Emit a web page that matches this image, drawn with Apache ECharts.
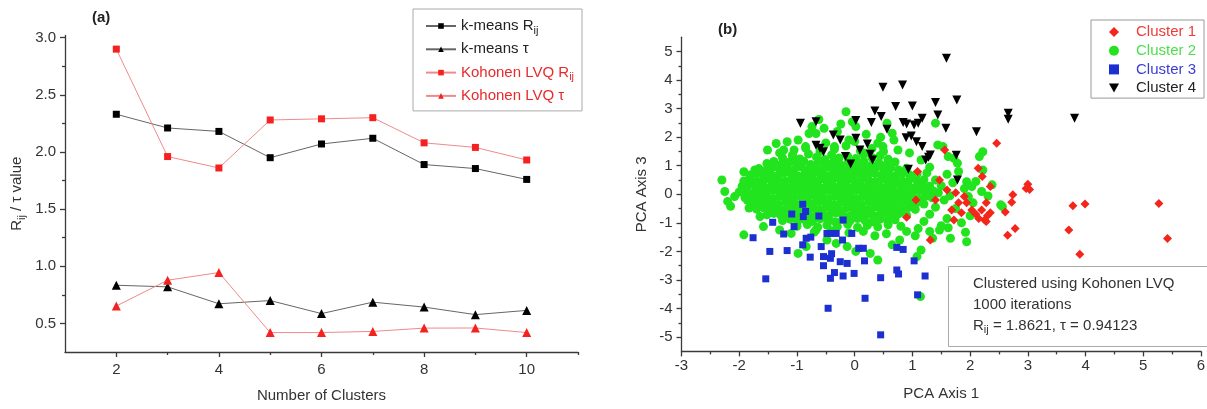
<!DOCTYPE html>
<html><head><meta charset="utf-8">
<script src="https://cdn.jsdelivr.net/npm/echarts@6/dist/echarts.min.js"></script>
<style>html,body{margin:0;padding:0;background:#fff}#c{width:1207px;height:409px}</style>
</head><body><div id="c"></div>
<script>
// ---------- Panel (a) data ----------
const clusterCounts = [2, 3, 4, 5, 6, 7, 8, 9, 10];
const kmeansR   = [2.33, 2.21, 2.18, 1.95, 2.07, 2.12, 1.89, 1.855, 1.76];
const kmeansTau = [0.834, 0.82, 0.672, 0.70, 0.586, 0.686, 0.643, 0.577, 0.614];
const kohonenR  = [2.90, 1.96, 1.86, 2.28, 2.29, 2.30, 2.08, 2.04, 1.93];
const kohonenTau= [0.652, 0.878, 0.945, 0.42, 0.42, 0.43, 0.459, 0.46, 0.42];
const aXTicks = [2, 4, 6, 8, 10];
const aXMinor = [3, 5, 7, 9, 11];
const aYTicks = [0.5, 1.0, 1.5, 2.0, 2.5, 3.0];
const aYMinor = [0.75, 1.25, 1.75, 2.25, 2.75];

// ---------- Panel (b) data (PCA Axis 1, PCA Axis 3) ----------
const cluster1 = [[2.46,1.79],[2.14,0.91],[2.21,0.62],[3.0,0.35],[2.97,0.2],[3.03,0.17],[2.74,-0.02],[2.72,-0.28],[2.61,-0.62],[2.78,-1.2],[2.65,-1.43],[3.71,-1.25],[3.78,-0.4],[3.99,-0.34],[3.9,-2.1],[5.27,-0.32],[5.42,-1.55],[1.31,-1.6],[1.09,0.8],[1.56,1.55],[2.15,-0.85],[2.25,-0.9],[2.3,-0.75],[2.35,-0.65],[2.2,-0.55],[2.28,-0.95],[2.1,-0.7],[2.28,-0.3],[2.35,0.27],[1.9,-0.08],[1.75,0.05],[1.8,-0.3],[1.85,-0.65],[1.72,-0.9],[1.68,-0.55],[1.4,-0.2],[1.06,-0.2],[0.9,-0.8],[1.94,-0.3],[2.03,-0.55],[1.6,0.15],[1.47,0.5]];
const cluster3 = [[-0.9,-0.35],[-1.09,-0.69],[-0.89,-0.78],[-0.62,-0.76],[-1.42,-0.98],[-1.05,-1.13],[-1.76,-1.52],[-1.23,-1.39],[-1.47,-2.0],[-1.17,-1.97],[-1.54,-2.96],[-0.84,-1.54],[-0.76,-1.5],[-0.9,-1.77],[-0.77,-2.2],[-0.54,-2.18],[-0.54,-2.5],[-0.58,-1.83],[-0.48,-1.37],[-0.42,-1.37],[-0.32,-1.37],[-0.42,-2.24],[-0.4,-2.08],[-0.35,-2.74],[-0.42,-2.94],[-0.2,-2.86],[-0.01,-2.77],[-0.25,-2.36],[-0.13,-2.42],[-0.21,-1.6],[-0.2,-0.9],[-0.05,-1.37],[0.07,-1.89],[0.15,-1.89],[0.17,-2.33],[0.18,-3.64],[-0.46,-3.99],[0.45,-2.92],[0.45,-4.92],[0.73,-1.86],[0.84,-1.93],[0.73,-2.65],[0.76,-2.79],[1.03,-2.33],[1.09,-3.52],[1.22,-2.86],[-0.85,-0.6]];
const cluster4 = [[1.59,4.76],[0.49,3.75],[0.83,3.83],[1.77,3.3],[1.4,3.21],[0.71,3.07],[1.0,3.09],[0.35,2.92],[0.46,2.72],[1.17,2.66],[1.1,2.49],[0.9,2.46],[0.84,2.51],[1.03,2.43],[1.44,2.78],[1.58,2.31],[0.56,2.28],[0.29,2.51],[0.02,2.58],[-0.94,2.49],[-0.67,2.54],[-0.37,2.08],[-0.25,1.9],[0.02,1.96],[0.09,1.55],[0.22,1.76],[-0.67,1.72],[-0.6,1.61],[-0.54,1.49],[0.31,1.2],[0.27,1.4],[0.89,1.98],[0.98,2.04],[1.07,1.84],[1.17,1.67],[1.28,1.3],[1.23,1.2],[1.31,1.38],[1.76,1.37],[2.11,2.19],[2.66,2.84],[2.66,2.63],[3.81,2.66],[1.78,0.5],[0.93,0.88],[-0.07,1.06],[-0.16,1.32]];
const cluster2 = [
[-2.3,0.5],[-2.25,0.1],[-2.2,-0.25],[-2.15,-0.42],[-2.08,-0.08],[-1.92,0.79],[-1.92,-1.42],[-1.86,-0.2],[-1.83,-0.48],[-1.73,0.85],[-1.7,0.44],[-1.67,0.1],[-1.64,-0.78],[-1.51,1.55],[-1.58,-1.13],[-1.36,1.78],[-1.23,1.55],[-1.17,1.84],[-1.07,1.32],[-0.98,1.9],[-0.85,1.67],[-0.79,2.13],[-0.67,2.13],[-0.62,2.62],[-0.74,2.37],[-0.53,2.31],[-0.24,2.46],[-0.15,2.89],[-0.04,2.54],[0.02,2.37],[-0.1,1.9],[-0.35,1.67],[0.18,1.44],[0.4,1.79],[0.49,1.67],[0.56,2.49],[0.65,2.14],[0.68,1.9],[1.4,2.49],[1.44,1.73],[1.53,1.67],[1.62,1.32],[1.72,1.26],[1.78,1.09],[2.22,1.49],[2.16,1.32],[2.22,0.85],[2.38,0.33],[2.31,-0.06],[2.53,-0.37],[2.56,-0.43],[1.94,0.44],[2.03,0.27],[1.97,-0.08],[1.92,-1.33],[1.94,-1.66],[1.66,-1.54],[1.62,-1.17],[1.47,-1.25],[1.35,-1.54],[1.15,-1.95],[1.08,-2.18],[1.14,-3.58],[0.78,-1.6],[0.65,-1.77],[0.4,-2.3],[0.27,-2.07],[0.02,-2.0],[-0.13,-1.83],[-0.32,-1.72],[-0.48,-1.6],[-0.67,-1.25],[-0.98,-2.07],[-0.84,-1.83],[-1.1,-1.37],[-1.3,-1.25],
[-1.25,1.28],[-1.08,1.36],[-0.95,1.24],[-0.8,1.41],[-0.66,1.3],[-0.52,1.22],[-0.4,1.38],[-0.27,1.27],[-0.12,1.33],[0.02,1.25],[0.15,1.4],[0.3,1.29],[0.44,1.35],[0.58,1.23],
[-1.52,1.08],[-1.4,1.15],[-1.27,1.05],[-1.14,1.12],[-1.01,1.07],[-0.88,1.16],[-0.76,1.04],[-0.63,1.11],[-0.5,1.06],[-0.37,1.14],[-0.24,1.03],[-0.11,1.12],[0.03,1.08],[0.16,1.15],[0.29,1.02],[0.42,1.1],[0.56,1.06],[0.7,1.13],
[-1.66,0.9],[-1.53,0.84],[-1.41,0.95],[-1.29,0.87],[-1.17,0.93],[-1.05,0.85],[-0.93,0.96],[-0.81,0.88],[-0.69,0.92],[-0.57,0.84],[-0.45,0.95],[-0.33,0.89],[-0.21,0.83],[-0.09,0.94],[0.03,0.87],[0.15,0.92],[0.27,0.85],[0.39,0.96],[0.51,0.88],[0.63,0.93],[0.76,0.85],[0.9,0.91],
[-1.82,0.68],[-1.7,0.74],[-1.58,0.66],[-1.46,0.72],[-1.34,0.65],[-1.22,0.75],[-1.1,0.69],[-0.98,0.64],[-0.86,0.73],[-0.74,0.67],[-0.62,0.75],[-0.5,0.66],[-0.38,0.71],[-0.26,0.64],[-0.14,0.74],[-0.02,0.68],[0.1,0.72],[0.22,0.65],[0.34,0.74],[0.46,0.67],[0.58,0.71],[0.7,0.64],[0.82,0.73],[0.95,0.68],[1.08,0.72],
[-1.92,0.47],[-1.8,0.53],[-1.68,0.45],[-1.56,0.52],[-1.44,0.48],[-1.32,0.55],[-1.2,0.46],[-1.08,0.51],[-0.96,0.44],[-0.84,0.54],[-0.72,0.48],[-0.6,0.52],[-0.48,0.45],[-0.36,0.55],[-0.24,0.47],[-0.12,0.51],[0,0.46],[0.12,0.54],[0.24,0.49],[0.36,0.45],[0.48,0.53],[0.6,0.47],[0.72,0.52],[0.84,0.45],[0.96,0.54],[1.08,0.48],[1.2,0.51],
[-1.95,0.28],[-1.83,0.33],[-1.71,0.26],[-1.59,0.31],[-1.47,0.25],[-1.35,0.34],[-1.23,0.29],[-1.11,0.24],[-0.99,0.32],[-0.87,0.27],[-0.75,0.35],[-0.63,0.28],[-0.51,0.24],[-0.39,0.33],[-0.27,0.27],[-0.15,0.31],[-0.03,0.25],[0.09,0.34],[0.21,0.28],[0.33,0.32],[0.45,0.25],[0.57,0.3],[0.69,0.35],[0.81,0.27],[0.93,0.31],[1.05,0.24],[1.17,0.33],[1.3,0.28],
[-2.0,0.08],[-1.88,0.13],[-1.76,0.05],[-1.64,0.11],[-1.52,0.06],[-1.4,0.14],[-1.28,0.09],[-1.16,0.04],[-1.04,0.12],[-0.92,0.07],[-0.8,0.15],[-0.68,0.08],[-0.56,0.04],[-0.44,0.13],[-0.32,0.07],[-0.2,0.11],[-0.08,0.05],[0.04,0.14],[0.16,0.08],[0.28,0.12],[0.4,0.05],[0.52,0.1],[0.64,0.15],[0.76,0.07],[0.88,0.11],[1.0,0.04],[1.12,0.13],[1.24,0.08],[1.37,0.11],
[-1.9,-0.12],[-1.78,-0.07],[-1.66,-0.14],[-1.54,-0.09],[-1.42,-0.15],[-1.3,-0.06],[-1.18,-0.11],[-1.06,-0.16],[-0.94,-0.08],[-0.82,-0.13],[-0.7,-0.05],[-0.58,-0.12],[-0.46,-0.16],[-0.34,-0.07],[-0.22,-0.13],[-0.1,-0.09],[0.02,-0.15],[0.14,-0.06],[0.26,-0.12],[0.38,-0.08],[0.5,-0.15],[0.62,-0.1],[0.74,-0.05],[0.86,-0.13],[0.98,-0.09],[1.1,-0.16],[1.22,-0.07],[1.34,-0.12],
[-1.8,-0.32],[-1.68,-0.27],[-1.56,-0.34],[-1.44,-0.29],[-1.32,-0.35],[-1.2,-0.26],[-1.08,-0.31],[-0.96,-0.36],[-0.84,-0.28],[-0.72,-0.33],[-0.6,-0.25],[-0.48,-0.32],[-0.36,-0.36],[-0.24,-0.27],[-0.12,-0.33],[0,-0.29],[0.12,-0.35],[0.24,-0.26],[0.36,-0.32],[0.48,-0.28],[0.6,-0.35],[0.72,-0.3],[0.84,-0.25],[0.96,-0.33],[1.08,-0.29],[1.2,-0.34],
[-1.7,-0.52],[-1.58,-0.47],[-1.46,-0.54],[-1.34,-0.49],[-1.22,-0.55],[-1.1,-0.46],[-0.98,-0.51],[-0.86,-0.56],[-0.74,-0.48],[-0.62,-0.53],[-0.5,-0.45],[-0.38,-0.52],[-0.26,-0.56],[-0.14,-0.47],[-0.02,-0.53],[0.1,-0.49],[0.22,-0.55],[0.34,-0.46],[0.46,-0.52],[0.58,-0.48],[0.7,-0.55],[0.82,-0.5],[0.94,-0.46],[1.05,-0.53],
[-1.52,-0.72],[-1.4,-0.67],[-1.28,-0.74],[-1.16,-0.69],[-1.04,-0.75],[-0.92,-0.66],[-0.8,-0.71],[-0.68,-0.76],[-0.56,-0.68],[-0.44,-0.73],[-0.32,-0.65],[-0.2,-0.72],[-0.08,-0.76],[0.04,-0.67],[0.16,-0.73],[0.28,-0.69],[0.4,-0.75],[0.52,-0.66],[0.64,-0.72],[0.76,-0.68],[0.9,-0.74],
[-1.25,-0.92],[-1.12,-0.87],[-0.99,-0.94],[-0.86,-0.89],[-0.73,-0.95],[-0.6,-0.86],[-0.47,-0.91],[-0.34,-0.96],[-0.21,-0.88],[-0.08,-0.93],[0.05,-0.85],[0.18,-0.92],[0.31,-0.96],[0.44,-0.87],[0.57,-0.93],[0.7,-0.89],
[-1.0,-1.12],[-0.82,-1.06],[-0.64,-1.15],[-0.48,-1.08],[-0.3,-1.13],[-0.12,-1.05],[0.05,-1.16],[0.22,-1.09],[0.4,-1.14],[0.58,-1.07],[0.8,-1.12],
[-0.7,-1.32],[-0.4,-1.28],[-0.1,-1.35],[0.15,-1.3],[0.35,-1.45],[0.55,-1.38],[0.9,-1.3],[1.05,-1.45],
[-1.05,1.55],[-0.85,1.62],[-0.6,1.5],[-0.35,1.58],[-0.15,1.7],[0.1,1.52],[0.3,1.6],[0.5,1.5],[-0.5,1.8],[0.0,1.85],[-1.3,1.45],[0.45,2.0],[-0.3,2.2],[0.2,2.1],[0.75,1.55],[0.95,1.45],[1.15,1.2],[1.3,0.95],[1.25,0.75],[1.4,0.5],[1.5,0.3],[1.45,0.05],[1.55,-0.2],[1.4,-0.45],[1.3,-0.7],[1.2,-0.95],[1.1,-1.2],[1.6,0.7],[1.7,0.4],[1.8,0.8],[1.65,-0.05],[1.75,-0.5],[1.6,-0.85],[1.9,0.2],[2.05,-0.3],[2.1,0.45],[2.2,0.1],[2.0,-0.75],[1.85,-1.0],[1.5,-1.1],[1.3,-1.3]
];
const bYTicks = [-5, -4, -3, -2, -1, 0, 1, 2, 3, 4, 5];
const bYMinor = [-4.5, -3.5, -2.5, -1.5, -0.5, 0.5, 1.5, 2.5, 3.5, 4.5];

// ---------- styling ----------
const FONT = 'Liberation Sans, Arial, Helvetica, sans-serif';
const TXT = '#333';
const AX = '#3a3a3a';
const subRich = {
  n: { fontSize: 15, lineHeight: 20, fontFamily: FONT },
  s: { fontSize: 11, lineHeight: 11, padding: [9, 0, 0, 0], fontFamily: FONT }
};
const pairs = arr => clusterCounts.map((c, i) => [c, arr[i]]);
const axisLine = { show: true, onZero: false, lineStyle: { color: AX, width: 1.3 } };
const labelStyle = { color: TXT, fontSize: 15, fontFamily: FONT };

function minorAxis(base) {
  return Object.assign({
    type: 'value', axisLine: { show: false, onZero: false }, axisLabel: { show: false },
    splitLine: { show: false }
  }, base);
}

const chart = echarts.init(document.getElementById('c'), null, { renderer: 'canvas' });
chart.setOption({
  animation: false,
  backgroundColor: '#fff',
  textStyle: { fontFamily: FONT },
  title: [
    { text: '(a)', left: 92, top: 10, padding: 0, textStyle: { fontSize: 15, fontWeight: 'bold', color: '#222', fontFamily: FONT } },
    { text: '(b)', left: 718, top: 22, padding: 0, textStyle: { fontSize: 15, fontWeight: 'bold', color: '#222', fontFamily: FONT } },
    {
      text: 'Clustered using Kohonen LVQ\n1000 iterations\n{n|R}{s|ij}{n| = 1.8621, τ = 0.94123}',
      left: 948, top: 266, padding: [7, 40, 11, 25],
      borderColor: '#aaa', borderWidth: 1,
      textStyle: { fontSize: 15, lineHeight: 21, color: TXT, fontWeight: 'normal', fontFamily: FONT,
        rich: { n: { fontSize: 15, lineHeight: 21, fontFamily: FONT, color: TXT },
                s: { fontSize: 11, lineHeight: 12, padding: [9, 0, 0, 0], fontFamily: FONT, color: TXT } } }
    }
  ],
  legend: [
    {
      orient: 'vertical', left: 413, top: 9, padding: [7, 8, 5, 12],
      itemWidth: 30, itemHeight: 7, itemGap: 3.3,
      borderColor: '#aaa', borderWidth: 1,
      data: [
        { name: 'k-means Rij', textStyle: { color: '#222' } },
        { name: 'k-means τ', textStyle: { color: '#222' } },
        { name: 'Kohonen LVQ Rij', textStyle: { color: '#e82a2a' } },
        { name: 'Kohonen LVQ τ', textStyle: { color: '#e82a2a' } }
      ],
      formatter: name => name.endsWith('Rij') ? '{n|' + name.slice(0, -2) + '}{s|ij}' : '{n|' + name + '}',
      textStyle: { fontSize: 15, lineHeight: 20, fontFamily: FONT, rich: subRich }
    },
    {
      orient: 'vertical', left: 1091, top: 20, padding: [4, 8, 2, 18],
      itemWidth: 10, itemHeight: 10, itemGap: 2.7,
      borderColor: '#999', borderWidth: 1,
      data: [
        { name: 'Cluster 1', textStyle: { color: '#ee3b3b' } },
        { name: 'Cluster 2', textStyle: { color: '#4cdf4c' } },
        { name: 'Cluster 3', textStyle: { color: '#3c3cd4' } },
        { name: 'Cluster 4', icon: 'path://M0,0 L10,0 L5,9 Z', textStyle: { color: '#222' } }
      ],
      textStyle: { fontSize: 15, lineHeight: 16, fontFamily: FONT, padding: [0, 0, 0, 12] }
    }
  ],
  grid: [
    { left: 65, right: 629, top: 35.4, bottom: 57, outerBoundsMode: 'none', containLabel: false },
    { left: 681.5, right: 6, top: 37.2, bottom: 57.6, outerBoundsMode: 'none', containLabel: false }
  ],
  xAxis: [
    { gridIndex: 0, type: 'value', min: 1, max: 11, axisLine,
      axisTick: { customValues: aXTicks, length: 5, lineStyle: { color: AX, width: 1.3 } },
      axisLabel: Object.assign({ customValues: aXTicks, margin: 10 }, labelStyle),
      splitLine: { show: false },
      name: 'Number of Clusters', nameLocation: 'middle', nameGap: 36,
      nameTextStyle: { fontSize: 15, color: TXT, fontFamily: FONT } },
    minorAxis({ gridIndex: 0, min: 1, max: 11, position: 'bottom',
      axisTick: { customValues: aXMinor, length: 3, lineStyle: { color: AX, width: 1.3 } } }),
    { gridIndex: 1, type: 'value', min: -3, max: 6, interval: 1, axisLine,
      axisTick: { length: 5, lineStyle: { color: AX, width: 1.3 } },
      minorTick: { show: true, splitNumber: 2, length: 3, lineStyle: { color: AX, width: 1.3 } },
      axisLabel: Object.assign({ margin: 7 }, labelStyle),
      splitLine: { show: false },
      name: 'PCA Axis 1', nameLocation: 'middle', nameGap: 35,
      nameTextStyle: { fontSize: 15, color: TXT, fontFamily: FONT } }
  ],
  yAxis: [
    { gridIndex: 0, type: 'value', min: 0.25, max: 3.02, axisLine,
      axisTick: { customValues: aYTicks, length: 5, lineStyle: { color: AX, width: 1.3 } },
      axisLabel: Object.assign({ customValues: aYTicks, margin: 9, formatter: v => v.toFixed(1) }, labelStyle),
      splitLine: { show: false },
      name: '{n|R}{s|ij}{n| / τ value}', nameLocation: 'middle', nameGap: 38,
      nameTextStyle: { fontSize: 15, color: TXT, fontFamily: FONT, rich: subRich } },
    minorAxis({ gridIndex: 0, min: 0.25, max: 3.02, position: 'left',
      axisTick: { customValues: aYMinor, length: 3, lineStyle: { color: AX, width: 1.3 } } }),
    { gridIndex: 1, type: 'value', min: -5.5, max: 5.5, axisLine,
      axisTick: { customValues: bYTicks, length: 5, lineStyle: { color: AX, width: 1.3 } },
      axisLabel: Object.assign({ customValues: bYTicks, margin: 9 }, labelStyle),
      splitLine: { show: false },
      name: 'PCA Axis 3', nameLocation: 'middle', nameGap: 32,
      nameTextStyle: { fontSize: 15, color: TXT, fontFamily: FONT } },
    minorAxis({ gridIndex: 1, min: -5.5, max: 5.5, position: 'left',
      axisTick: { customValues: bYMinor, length: 3, lineStyle: { color: AX, width: 1.3 } } })
  ],
  series: [
    { name: 'k-means Rij', type: 'line', xAxisIndex: 0, yAxisIndex: 0, data: pairs(kmeansR),
      symbol: 'rect', symbolSize: 7, lineStyle: { color: '#666', width: 1 }, itemStyle: { color: '#000' } },
    { name: 'k-means τ', type: 'line', xAxisIndex: 0, yAxisIndex: 0, data: pairs(kmeansTau),
      symbol: 'triangle', symbolSize: 9, lineStyle: { color: '#666', width: 1 }, itemStyle: { color: '#000' } },
    { name: 'Kohonen LVQ Rij', type: 'line', xAxisIndex: 0, yAxisIndex: 0, data: pairs(kohonenR),
      symbol: 'rect', symbolSize: 7, lineStyle: { color: '#f08a8a', width: 1 }, itemStyle: { color: '#f52020' } },
    { name: 'Kohonen LVQ τ', type: 'line', xAxisIndex: 0, yAxisIndex: 0, data: pairs(kohonenTau),
      symbol: 'triangle', symbolSize: 9, lineStyle: { color: '#f08a8a', width: 1 }, itemStyle: { color: '#f52020' } },
    { name: 'Cluster 1', type: 'scatter', xAxisIndex: 2, yAxisIndex: 2, data: cluster1, z: 3,
      symbol: 'diamond', symbolSize: 9, itemStyle: { color: '#f4261c', opacity: 1 } },
    { name: 'Cluster 2', type: 'scatter', xAxisIndex: 2, yAxisIndex: 2, data: cluster2, z: 2,
      symbol: 'circle', symbolSize: 9, itemStyle: { color: '#22e41e', opacity: 1 } },
    { name: 'Cluster 3', type: 'scatter', xAxisIndex: 2, yAxisIndex: 2, data: cluster3, z: 3,
      symbol: 'rect', symbolSize: 7, itemStyle: { color: '#1c30d2', opacity: 1 } },
    { name: 'Cluster 4', type: 'scatter', xAxisIndex: 2, yAxisIndex: 2, data: cluster4, z: 3,
      symbol: 'triangle', symbolRotate: 180, symbolSize: 9, itemStyle: { color: '#000', opacity: 1 } }
  ]
});
</script></body></html>
